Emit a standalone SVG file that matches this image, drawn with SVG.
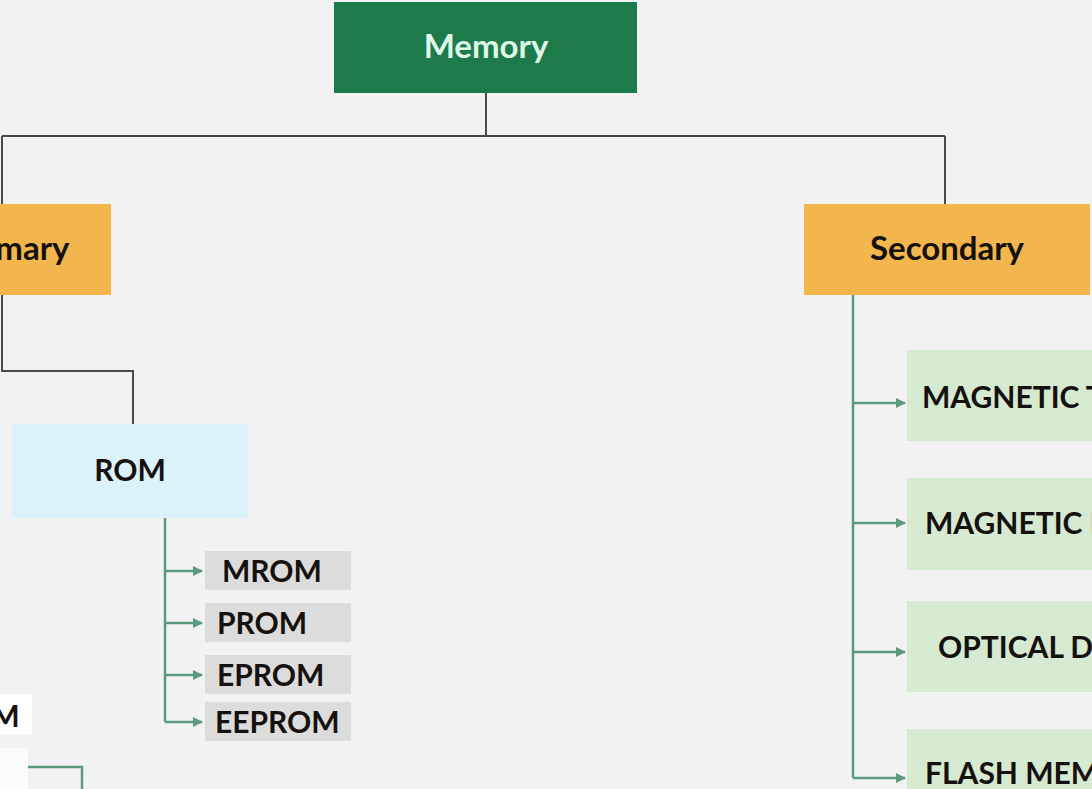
<svg xmlns="http://www.w3.org/2000/svg" width="1092" height="789" viewBox="0 0 1092 789">
<style>
.t{font-family:Lato,"Open Sans","Liberation Sans",sans-serif;font-weight:700;font-size:30px;fill:#15110f}
.big{font-size:33px}
.c{text-anchor:middle}
.gray{fill:none;stroke:#4a4a4a;stroke-width:2}
.grn{fill:none;stroke:#5b9a7c;stroke-width:2.5}
</style>
<defs>
<marker id="ah" viewBox="0 0 10 10" refX="9" refY="5" markerWidth="4" markerHeight="4" orient="auto" markerUnits="strokeWidth">
<path d="M0 0 L10 5 L0 10 z" fill="#5b9a7c"/>
</marker>
</defs>
<rect width="1092" height="789" fill="#f2f2f2"/>
<g id="connectors">
<path class="gray" d="M486 93 V136 M2 136 H945 M2 136 V204 M945 136 V204"/>
<path class="gray" d="M2 295 V371 H133 V424"/>
<path class="grn" d="M165 518 V722"/>
<path class="grn" d="M165 571 H202" marker-end="url(#ah)"/>
<path class="grn" d="M165 623 H202" marker-end="url(#ah)"/>
<path class="grn" d="M165 675 H202" marker-end="url(#ah)"/>
<path class="grn" d="M165 722 H202" marker-end="url(#ah)"/>
<path class="grn" d="M853 295 V778"/>
<path class="grn" d="M853 403 H905" marker-end="url(#ah)"/>
<path class="grn" d="M853 523 H905" marker-end="url(#ah)"/>
<path class="grn" d="M853 652 H905" marker-end="url(#ah)"/>
<path class="grn" d="M853 778 H905" marker-end="url(#ah)"/>
<path class="grn" d="M28 767 H82 V789"/>
</g>
<g id="memory">
<rect x="334" y="2" width="303" height="91" fill="#1c7a4b"/>
<text class="t big c" x="486" y="58" style="fill:#dff7e6">Memory</text>
</g>
<g id="primary">
<rect x="-110" y="204" width="221" height="91" fill="#f2b64c"/>
<text class="t big c" x="12" y="260">Primary</text>
</g>
<g id="secondary">
<rect x="804" y="204" width="286" height="91" fill="#f2b64c"/>
<text class="t big c" x="947" y="260">Secondary</text>
</g>
<g id="rom">
<rect x="12" y="424" width="236" height="94" fill="#dcf2fb"/>
<text class="t c" x="130" y="481">ROM</text>
</g>
<g id="mrom">
<rect x="205" y="551" width="146" height="39" fill="#dcdcdc"/>
<text class="t" x="222" y="582">MROM</text>
</g>
<g id="prom">
<rect x="205" y="603" width="146" height="39" fill="#dcdcdc"/>
<text class="t" x="217" y="634">PROM</text>
</g>
<g id="eprom">
<rect x="205" y="655" width="146" height="39" fill="#dcdcdc"/>
<text class="t" x="217" y="686">EPROM</text>
</g>
<g id="eeprom">
<rect x="205" y="702" width="146" height="39" fill="#dcdcdc"/>
<text class="t" x="215" y="733">EEPROM</text>
</g>
<g id="ram">
<rect x="-90" y="694" width="122" height="40" fill="#ffffff"/>
<text class="t" x="-49" y="727">RAM</text>
</g>
<g id="ram-child">
<rect x="-90" y="748" width="118" height="41" fill="#fbfbfb"/>
</g>
<g id="tape">
<rect x="907" y="350" width="200" height="91" fill="#d6e9d1"/>
<text class="t" x="922" y="408">MAGNETIC TAPE</text>
</g>
<g id="disk">
<rect x="907" y="478" width="200" height="92" fill="#d6e9d1"/>
<text class="t" x="925" y="534">MAGNETIC DISK</text>
</g>
<g id="optical">
<rect x="907" y="601" width="200" height="91" fill="#d6e9d1"/>
<text class="t" x="938" y="658">OPTICAL DISK</text>
</g>
<g id="flash">
<rect x="907" y="729" width="200" height="70" fill="#d6e9d1"/>
<text class="t" x="925" y="784">FLASH MEMORY</text>
</g>
</svg>
